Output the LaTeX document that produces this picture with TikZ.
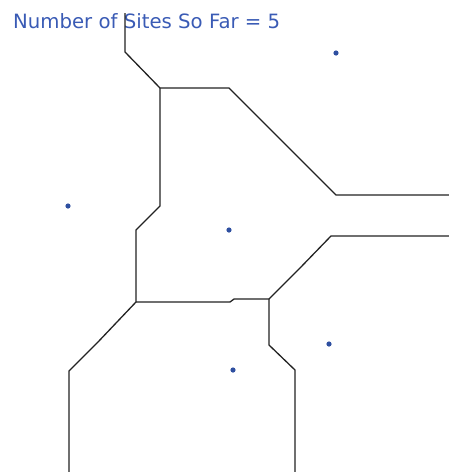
\documentclass[tikz,border=0pt]{standalone}
\usepackage{fontspec}
\setsansfont{DejaVu Sans}
\definecolor{SiteBlue}{HTML}{2E4FA0}
\definecolor{TitleBlue}{HTML}{3A5BB5}
\definecolor{EdgeGray}{HTML}{222222}

\begin{document}
\begin{tikzpicture}[x=1pt,y=-1pt, every node/.style={font=\sffamily}]
  \useasboundingbox (0,0) rectangle (449,472);
  \node[anchor=base west, inner sep=0pt, color=TitleBlue, font=\sffamily\fontsize{19.7}{21}\selectfont] (title) at (13,28) {Number of Sites So Far = 5};
  % cell edges
  \draw[EdgeGray, line width=1.3pt] (125,13) -- (125,52) -- (160,88) -- (229,88) -- (336,195) -- (449,195);
  \draw[EdgeGray, line width=1.3pt] (160,88) -- (160,206) -- (136,230) -- (136,302);
  \draw[EdgeGray, line width=1.3pt] (136,302) -- (230,302) -- (234,299) -- (269,299);
  \draw[EdgeGray, line width=1.3pt] (269,299) -- (300,268) -- (331,236) -- (449,236);
  \draw[EdgeGray, line width=1.3pt] (269,299) -- (269,345) -- (295,370) -- (295,472);
  \draw[EdgeGray, line width=1.3pt] (136,302) -- (98,342) -- (69,371) -- (69,472);
  % sites
  \foreach \sx/\sy in {336/53, 68/206, 229/230, 329/344, 233/370} {
    \fill[SiteBlue] (\sx,\sy) circle (2.6);
  }
\end{tikzpicture}
\end{document}
